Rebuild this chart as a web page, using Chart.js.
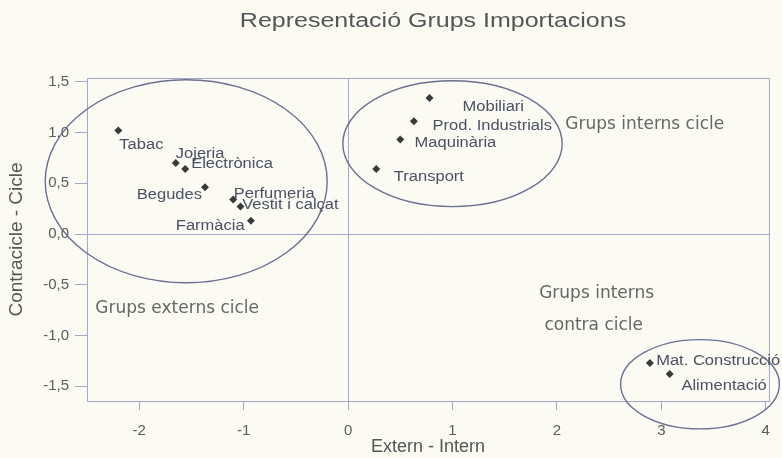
<!DOCTYPE html>
<html>
<head>
<meta charset="utf-8">
<script src="https://cdn.jsdelivr.net/npm/chart.js@4.4.0/dist/chart.umd.min.js"></script>
<style>
body { margin: 0; background: #fbfbf4; }
#wrap { width: 782px; height: 458px; }
</style>
</head>
<body>
<div id="wrap"><canvas id="myChart"></canvas></div>
<script>
const groups = ['Tabac', 'Jojeria', 'Electrònica', 'Begudes', 'Perfumeria', 'Vestit i calçat', 'Farmàcia',
    'Mobiliari', 'Prod. Industrials', 'Maquinària', 'Transport', 'Mat. Construcció', 'Alimentació'];
const externIntern = [-2.20, -1.65, -1.56, -1.37, -1.10, -1.03, -0.93, 0.78, 0.63, 0.50, 0.27, 2.89, 3.08];
const contraCicle = [1.02, 0.70, 0.64, 0.46, 0.34, 0.27, 0.13, 1.34, 1.11, 0.93, 0.64, -1.27, -1.38];
const xTicks = [-2, -1, 0, 1, 2, 3, 4];
const yTicks = [-1.5, -1.0, -0.5, 0.0, 0.5, 1.0, 1.5];

// circled groups: centre and radii in axis units
const circles = [
    { cx: -1.55, cy: 0.52, rx: 1.35, ry: 1.00 },
    { cx: 1.00, cy: 0.89, rx: 1.05, ry: 0.62 },
    { cx: 3.37, cy: -1.48, rx: 0.76, ry: 0.44 }
];
const notes = [
    { text: 'Grups externs cicle', x: -2.42, y: -0.78 },
    { text: 'Grups interns cicle', x: 2.08, y: 1.03 },
    { text: 'Grups interns', x: 1.83, y: -0.63 },
    { text: 'contra cicle', x: 1.88, y: -0.95 }
];

// label offset from its point in px: [dx, dy, align]
const labelPos = [
    [1, 18.6, 'left'], [0, -5, 'left'], [6, -1, 'left'], [-3, 11.7, 'right'],
    [0.6, -2, 'left'], [1.7, 2, 'left'], [-6.3, 8.7, 'right'], [33, 13.4, 'left'],
    [18.7, 8.7, 'left'], [14.3, 7.4, 'left'], [17.6, 12, 'left'], [6.3, 1.7, 'left'],
    [11.7, 16, 'left']
];

const lineCol = '#a3a8c8';
const ringCol = '#6c7090';

function wideText(ctx, text, x, y, sx, align) {
    const w = ctx.measureText(text).width * sx;
    let left = x;
    if (align === 'right') left = x - w;
    if (align === 'center') left = x - w / 2;
    ctx.save();
    ctx.translate(left, y);
    ctx.scale(sx, 1);
    ctx.textAlign = 'left';
    ctx.fillText(text, 0, 0);
    ctx.restore();
}

const annotate = {
    id: 'annotate',
    beforeDraw(chart) {
        const ctx = chart.ctx;
        ctx.save();
        ctx.fillStyle = '#fbfbf4';
        ctx.fillRect(0, 0, chart.width, chart.height);
        ctx.restore();
    },
    afterDraw(chart) {
        const ctx = chart.ctx;
        const a = chart.chartArea;
        const x = chart.scales.x, y = chart.scales.y;
        ctx.save();
        ctx.strokeStyle = lineCol;
        ctx.lineWidth = 1;
        ctx.strokeRect(a.left + 0.5, a.top + 0.5, a.right - a.left, a.bottom - a.top);

        ctx.strokeStyle = ringCol;
        ctx.lineWidth = 1.4;
        circles.forEach(c => {
            const px = x.getPixelForValue(c.cx), py = y.getPixelForValue(c.cy);
            const rx = Math.abs(x.getPixelForValue(c.cx + c.rx) - px);
            const ry = Math.abs(y.getPixelForValue(c.cy + c.ry) - py);
            ctx.beginPath();
            ctx.ellipse(px, py, rx, ry, 0, 0, Math.PI * 2);
            ctx.stroke();
        });

        ctx.fillStyle = '#4a5162';
        ctx.font = '14px "Liberation Sans", Arial, sans-serif';
        ctx.textBaseline = 'alphabetic';
        const meta = chart.getDatasetMeta(0);
        meta.data.forEach((pt, i) => {
            const p = labelPos[i];
            wideText(ctx, groups[i], pt.x + p[0], pt.y + p[1], 1.18, p[2]);
        });

        ctx.fillStyle = '#666';
        ctx.font = '17px "DejaVu Sans", sans-serif';
        notes.forEach(n => {
            ctx.textAlign = 'left';
            ctx.fillText(n.text, x.getPixelForValue(n.x), y.getPixelForValue(n.y));
        });

        ctx.fillStyle = '#555';
        ctx.font = '20px "Liberation Sans", Arial, sans-serif';
        wideText(ctx, 'Representació Grups Importacions', 433, 27, 1.25, 'center');
        ctx.restore();
    }
};

const data = {
    datasets: [{
        label: 'Grups',
        data: groups.map((g, i) => ({ x: externIntern[i], y: contraCicle[i] })),
        pointStyle: 'rectRot',
        pointRadius: 4,
        backgroundColor: '#3a3a3a',
        borderColor: '#3a3a3a',
        borderWidth: 0
    }]
};

const config = {
    type: 'scatter',
    data: data,
    plugins: [annotate],
    options: {
        responsive: true,
        maintainAspectRatio: false,
        animation: false,
        layout: { padding: { top: 78, right: 12, left: 0, bottom: 0 } },
        plugins: { legend: { display: false }, tooltip: { enabled: false } },
        scales: {
            x: {
                min: -2.5,
                max: 4.03,
                afterBuildTicks: s => { s.ticks = xTicks.map(v => ({ value: v })); },
                afterFit: s => { s.height = 57; },
                border: { color: lineCol },
                grid: {
                    color: c => (c.tick && c.tick.value === 0) ? lineCol : 'rgba(0,0,0,0)',
                    tickColor: lineCol,
                    tickLength: 9
                },
                ticks: {
                    color: '#5c5c5c',
                    font: { family: '"Liberation Sans", Arial', size: 15 },
                    padding: 12,
                    callback: v => String(v)
                },
                title: {
                    display: true,
                    text: 'Extern - Intern',
                    color: '#555',
                    font: { family: '"Liberation Sans", Arial', size: 18 },
                    padding: { top: 0, bottom: 0 }
                }
            },
            y: {
                min: -1.645,
                max: 1.537,
                afterBuildTicks: s => { s.ticks = yTicks.map(v => ({ value: v })); },
                afterFit: s => { s.width = 87; },
                border: { color: lineCol },
                grid: {
                    color: c => (c.tick && c.tick.value === 0) ? lineCol : 'rgba(0,0,0,0)',
                    tickColor: lineCol,
                    tickLength: 12
                },
                ticks: {
                    color: '#5c5c5c',
                    font: { family: '"Liberation Sans", Arial', size: 15 },
                    padding: 6,
                    callback: v => Number(v).toFixed(1).replace('.', ',')
                },
                title: {
                    display: true,
                    text: 'Contracicle - Cicle',
                    color: '#555',
                    font: { family: '"Liberation Sans", Arial', size: 19 },
                    padding: { top: 5, bottom: 0 }
                }
            }
        }
    }
};

const myChart = new Chart(document.getElementById('myChart'), config);
</script>
</body>
</html>
